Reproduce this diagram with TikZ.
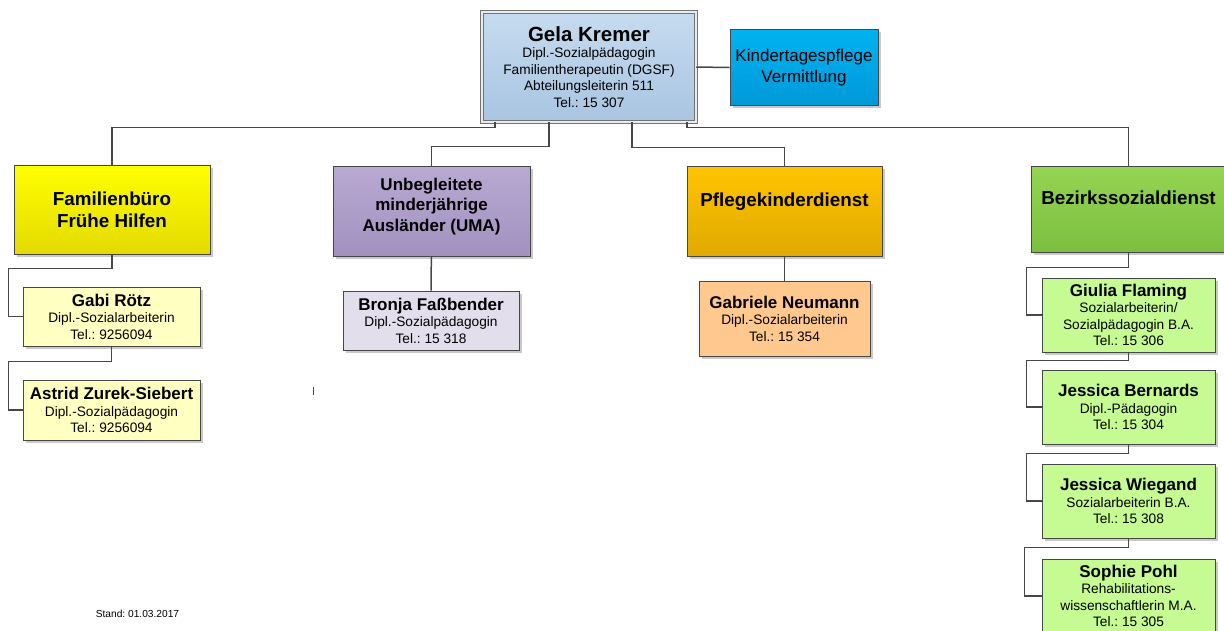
\documentclass[tikz,border=0pt]{standalone}
\usepackage{fontspec}
\setmainfont{Liberation Sans}
\usetikzlibrary{shadows}
\frenchspacing

\definecolor{bossTop}{HTML}{C6DBEF}
\definecolor{bossBot}{HTML}{A9C5E1}
\definecolor{kitaTop}{HTML}{00B2F0}
\definecolor{kitaBot}{HTML}{0099D9}
\definecolor{famTop}{HTML}{FFFF00}
\definecolor{famBot}{HTML}{E4DA00}
\definecolor{umaTop}{HTML}{B8AAD3}
\definecolor{umaBot}{HTML}{A291BF}
\definecolor{pflTop}{HTML}{FFC400}
\definecolor{pflBot}{HTML}{E0A900}
\definecolor{bsdTop}{HTML}{95D452}
\definecolor{bsdBot}{HTML}{7CBF40}
\definecolor{famPers}{HTML}{FFFFC2}
\definecolor{umaPers}{HTML}{E2DEEC}
\definecolor{pflPers}{HTML}{FFC88E}
\definecolor{bsdPers}{HTML}{C6FA92}

\newcommand{\persname}[1]{{\fontsize{17}{20}\selectfont\bfseries #1}}

\begin{document}
\begin{tikzpicture}[x=1pt,y=-1pt,
    box/.style={draw=black!72,line width=0.9pt,align=center,inner sep=0pt,
      drop shadow={shadow xshift=2.5pt,shadow yshift=-2.5pt,fill=black!30,opacity=.7}},
    head/.style={box,font=\fontsize{18.8}{22}\selectfont\bfseries},
    person/.style={box,font=\fontsize{13.7}{16.5}\selectfont},
    link/.style={draw=black!72,line width=1.5pt}]
    \useasboundingbox (0,0) rectangle (1224,630);

    % leitung
    \node[box,double=black!8,double distance=2.4pt,line width=1pt,draw=black!55,
          top color=bossTop,bottom color=bossBot,minimum width=213.5pt,minimum height=109.5pt,
          font=\fontsize{13.7}{16.5}\selectfont] (boss) at (589,67)
          {{\fontsize{20.5}{24}\selectfont\bfseries Gela Kremer}\\
           Dipl.-Sozialpädagogin\\ Familientherapeutin (DGSF)\\
           Abteilungsleiterin 511\\ Tel.: 15 307};
    \node[box,top color=kitaTop,bottom color=kitaBot,minimum width=148pt,minimum height=76pt,
          font=\fontsize{17}{21.5}\selectfont] (kita) at (804,67.5)
          {Kindertagespflege\\ Vermittlung};

    % abteilungen
    \node[head,top color=famTop,bottom color=famBot,minimum width=196pt,minimum height=89pt]
          (fam) at (112,209.5) {Familienbüro\\ Frühe Hilfen};
    \node[head,top color=umaTop,bottom color=umaBot,minimum width=197pt,minimum height=90pt,
          font=\fontsize{17}{20.5}\selectfont\bfseries]
          (uma) at (431.5,211) {Unbegleitete\\ minderjährige\\ Ausländer (UMA)\\[-7.5pt]};
    \node[head,top color=pflTop,bottom color=pflBot,minimum width=195pt,minimum height=90pt]
          (pfl) at (784.5,211) {Pflegekinderdienst\\};
    \node[head,top color=bsdTop,bottom color=bsdBot,minimum width=195pt,minimum height=86pt]
          (bsd) at (1128.5,209) {Bezirkssozialdienst\\};

    % mitarbeiterinnen
    \node[person,fill=famPers,minimum width=177pt,minimum height=59pt] (gabi) at (111.5,316.5)
          {\persname{Gabi Rötz}\\ Dipl.-Sozialarbeiterin\\ Tel.: 9256094};
    \node[person,fill=famPers,minimum width=177pt,minimum height=60pt] (astrid) at (111.5,410)
          {\persname{Astrid Zurek-Siebert}\\ Dipl.-Sozialpädagogin\\ Tel.: 9256094};
    \node[person,fill=umaPers,minimum width=176pt,minimum height=59pt] (bronja) at (431,320.5)
          {\persname{Bronja Faßbender}\\ Dipl.-Sozialpädagogin\\ Tel.: 15 318};
    \node[person,fill=pflPers,minimum width=171pt,minimum height=75pt] (neumann) at (784.5,318.5)
          {\persname{Gabriele Neumann}\\ Dipl.-Sozialarbeiterin\\ Tel.: 15 354};
    \node[person,fill=bsdPers,minimum width=173pt,minimum height=74pt] (giulia) at (1128.5,315)
          {\persname{Giulia Flaming}\\ Sozialarbeiterin/\\ Sozialpädagogin B.A.\\ Tel.: 15 306};
    \node[person,fill=bsdPers,minimum width=173pt,minimum height=74pt] (bernards) at (1128.5,407)
          {\persname{Jessica Bernards}\\ Dipl.-Pädagogin\\ Tel.: 15 304};
    \node[person,fill=bsdPers,minimum width=173pt,minimum height=74pt] (wiegand) at (1128.5,501)
          {\persname{Jessica Wiegand}\\ Sozialarbeiterin B.A.\\ Tel.: 15 308};
    \node[person,fill=bsdPers,minimum width=173pt,minimum height=74pt] (pohl) at (1128.5,596)
          {\persname{Sophie Pohl}\\ Rehabilitations-\\ wissenschaftlerin M.A.\\ Tel.: 15 305};

    \node[font=\fontsize{10.2}{12}\selectfont] (stand) at (137.5,614) {Stand: 01.03.2017};

    % verbindungen
    \path[link] (boss.east) edge (kita.west);
    \draw[link] ([xshift=-94pt]boss.south) -- ++(0,5) -| (fam.north);
    \draw[link] ([xshift=-40pt]boss.south) -- ++(0,24) -| (uma.north);
    \draw[link] ([xshift=43pt]boss.south) -- ++(0,25) -| (pfl.north);
    \draw[link] ([xshift=98pt]boss.south) -- ++(0,5) -| (bsd.north);

    \draw[link] (fam.south) -- ++(0,14) -| ([xshift=-14pt]gabi.west) -- (gabi.west);
    \draw[link] (gabi.south) -- ++(0,15) -| ([xshift=-14pt]astrid.west) -- (astrid.west);
    \path[link] (uma) edge (bronja)
                (pfl) edge (neumann);
    \draw[link] (bsd.south) -- ++(0,15) -| ([xshift=-15pt]giulia.west) -- (giulia.west);
    \draw[link] (giulia.south) -- ++(0,8) -| ([xshift=-15pt]bernards.west) -- (bernards.west);
    \draw[link] (bernards.south) -- ++(0,9) -| ([xshift=-15pt]wiegand.west) -- (wiegand.west);
    \draw[link] (wiegand.south) -- ++(0,9) -| ([xshift=-17pt]pohl.west) -- (pohl.west);

    \draw[link,line width=1pt] (313,387) -- (313,395);
\end{tikzpicture}
\end{document}
